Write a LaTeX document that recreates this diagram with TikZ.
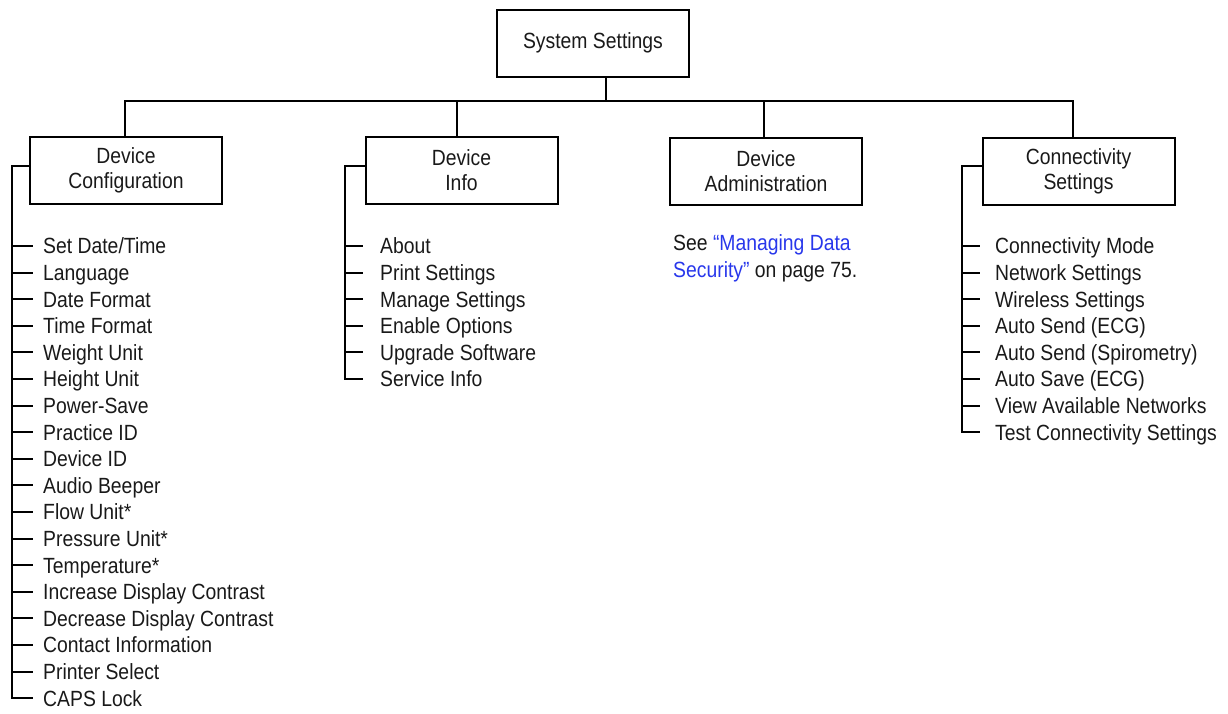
\documentclass[tikz,border=0pt]{standalone}
\usepackage{fontspec}
\setmainfont{Liberation Sans}[FakeStretch=0.88]
\definecolor{linkblue}{RGB}{40,55,235}
\definecolor{ink}{RGB}{25,25,25}
\begin{document}
\begin{tikzpicture}[x=1pt,y=-1pt,
  box/.style={draw=black,line width=2pt,minimum width=192pt,minimum height=67pt,inner sep=0pt,
    align=center,font=\fontsize{22pt}{25pt}\selectfont,text=ink},
  item/.style={anchor=west,inner sep=0pt,text height=15.75pt,text depth=0pt,
    font=\fontsize{22pt}{25pt}\selectfont,text=ink}]
\useasboundingbox (0,0) rectangle (1228,713);

\node[box] (ss) at (593,43) {System Settings};
\node[box] (dc) at (126,170.5) {Device\\Configuration};
\node[box] (di) at (461.5,170.5) {Device\\Info};
\node[box] (da) at (766,171) {Device\\Administration};
\node[box] (cs) at (1078.5,171) {Connectivity\\Settings};

% bus
\coordinate (bus) at (606,101);
\coordinate (busL) at (125,101);
\coordinate (busR) at (1073,101);
\draw[line width=2pt] ([xshift=13pt]ss.south) -- (bus);
\draw[line width=2pt] (busL |- dc.north) -- (busL) -- (busR) -- (busR |- cs.north);
\draw[line width=2pt] (457,101) -- (di.north -| 457,0);
\draw[line width=2pt] (764,101) -- (da.north -| 764,0);

% Device Configuration list
\foreach [count=\i] \t in {Set Date/Time,Language,Date Format,Time Format,Weight Unit,Height Unit,Power-Save,Practice ID,Device ID,Audio Beeper,Flow Unit*,Pressure Unit*,Temperature*,Increase Display Contrast,Decrease Display Contrast,Contact Information,Printer Select,CAPS Lock}
  \node[item] (dc\i) at (43,{246+26.6*(\i-1)}) {\t};
\coordinate (dcx) at (12,166);
\draw[line width=2pt] (dc.west |- dcx) -- (dcx) |- ([xshift=-10pt]dc18.west);
\foreach \i in {1,...,17}
  \draw[line width=2pt] (dcx |- dc\i.west) -- ([xshift=-10pt]dc\i.west);

% Device Info list
\foreach [count=\i] \t in {About,Print Settings,Manage Settings,Enable Options,Upgrade Software,Service Info}
  \node[item] (di\i) at (380,{246+26.6*(\i-1)}) {\t};
\coordinate (dix) at (345,166);
\draw[line width=2pt] (di.west |- dix) -- (dix) |- ([xshift=-17pt]di6.west);
\foreach \i in {1,...,5}
  \draw[line width=2pt] (dix |- di\i.west) -- ([xshift=-17pt]di\i.west);

% Device Administration note
\node[anchor=north west,inner sep=0pt,align=left,font=\fontsize{22pt}{27pt}\selectfont,text=ink] (note) at (673,234.5)
  {See \textcolor{linkblue}{“Managing Data}\\\textcolor{linkblue}{Security”} on page 75.};

% Connectivity list
\foreach [count=\i] \t in {Connectivity Mode,Network Settings,Wireless Settings,Auto Send (ECG),Auto Send (Spirometry),Auto Save (ECG),View Available Networks,Test Connectivity Settings}
  \node[item] (cs\i) at (995,{246+26.6*(\i-1)}) {\t};
\coordinate (csx) at (962,166);
\draw[line width=2pt] (cs.west |- csx) -- (csx) |- ([xshift=-15pt]cs8.west);
\foreach \i in {1,...,7}
  \draw[line width=2pt] (csx |- cs\i.west) -- ([xshift=-15pt]cs\i.west);
\end{tikzpicture}
\end{document}
